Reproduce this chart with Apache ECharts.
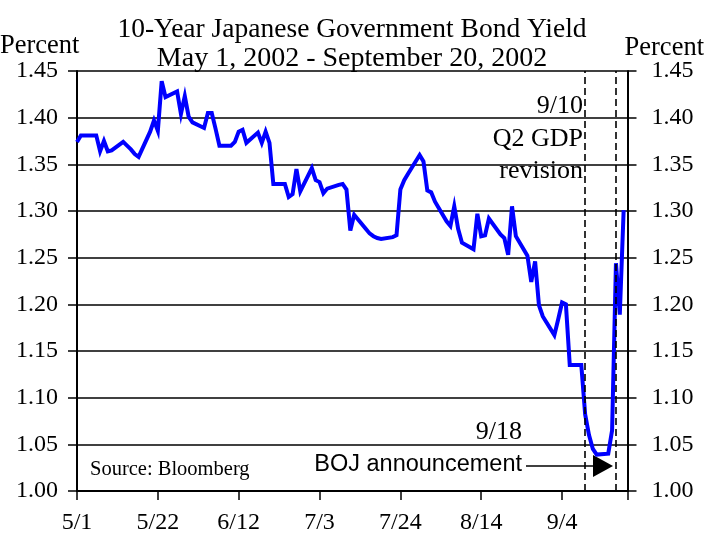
<!DOCTYPE html>
<html>
<head>
<meta charset="utf-8">
<script src="https://cdn.jsdelivr.net/npm/echarts@6/dist/echarts.min.js"></script>
<style>
  html, body { margin: 0; padding: 0; background: #ffffff; }
  #chart { width: 704px; height: 537px; }
</style>
</head>
<body>
<div id="chart"></div>
<script>
// Trading dates (2002) and 10-year JGB yields, percent
const dates = [
  '5/1','5/2','5/6','5/7','5/8','5/9','5/10','5/13','5/14','5/15','5/16','5/17',
  '5/20','5/21','5/22','5/23','5/24','5/27','5/28','5/29','5/30','5/31',
  '6/3','6/4','6/5','6/6','6/7','6/10','6/11','6/12','6/13','6/14',
  '6/17','6/18','6/19','6/20','6/21','6/24','6/25','6/26','6/27','6/28',
  '7/1','7/2','7/3','7/4','7/5','7/8','7/9','7/10','7/11','7/12',
  '7/15','7/16','7/17','7/18','7/19','7/22','7/23','7/24','7/25','7/26',
  '7/29','7/30','7/31','8/1','8/2','8/5','8/6','8/7','8/8','8/9',
  '8/12','8/13','8/14','8/15','8/16','8/19','8/20','8/21','8/22','8/23',
  '8/26','8/27','8/28','8/29','8/30','9/2','9/3','9/4','9/5','9/6',
  '9/9','9/10','9/11','9/12','9/13','9/16','9/17','9/18','9/19','9/20'
];
const yields = [
  1.374,1.381,1.381,1.364,1.375,1.364,1.365,1.374,1.370,1.366,1.361,1.358,
  1.385,1.397,1.386,1.439,1.422,1.428,1.404,1.423,1.401,1.395,
  1.389,1.405,1.405,1.388,1.370,1.370,1.374,1.385,1.387,1.373,
  1.384,1.373,1.385,1.373,1.329,1.329,1.315,1.318,1.345,1.321,
  1.346,1.333,1.331,1.319,1.324,1.328,1.329,1.323,1.279,1.296,
  1.281,1.276,1.273,1.271,1.270,1.272,1.274,1.323,1.333,1.340,
  1.360,1.353,1.322,1.320,1.310,1.289,1.284,1.305,1.281,1.266,
  1.259,1.297,1.273,1.274,1.292,1.275,1.271,1.253,1.305,1.273,
  1.252,1.224,1.246,1.199,1.187,1.167,1.184,1.202,1.200,1.135,
  1.135,1.082,1.060,1.045,1.039,1.040,1.065,1.244,1.189,1.301
];

// Date axis tick labels (every three weeks from May 1)
const xTickLabels = ['5/1','5/22','6/12','7/3','7/24','8/14','9/4'];
// Event markers: Q2 GDP revision and BOJ announcement
const eventDates = ['9/10','9/18'];

const yMin = 1.00, yMax = 1.45, yStep = 0.05;
const tickDays = 21;
const axisEndDay = 143;

function dayOf(md) {
  const [m, d] = md.split('/').map(Number);
  return (Date.UTC(2002, m - 1, d) - Date.UTC(2002, 4, 1)) / 86400000;
}

const seriesData = dates.map((d, i) => [dayOf(d), yields[i]]);

const serif = '"Liberation Serif", "Times New Roman", serif';
const sans = '"Liberation Sans", Arial, sans-serif';

const chart = echarts.init(document.getElementById('chart'), null, { renderer: 'canvas' });

const yAxisCommon = {
  type: 'value',
  min: yMin,
  max: yMax,
  interval: yStep,
  axisLine: { show: true, lineStyle: { color: '#000', width: 2 } },
  axisTick: { show: true, inside: false, length: 9, lineStyle: { color: '#000', width: 1.5 } },
  axisLabel: {
    color: '#000', fontFamily: serif, fontSize: 24,
    formatter: v => v.toFixed(2)
  }
};

chart.setOption({
  animation: false,
  backgroundColor: '#ffffff',
  grid: { left: 77, right: 76.5, top: 71, bottom: 46, containLabel: false },
  xAxis: {
    type: 'value',
    min: 0,
    max: axisEndDay,
    interval: tickDays,
    axisLine: { show: true, onZero: false, lineStyle: { color: '#000', width: 2 } },
    axisTick: { show: true, inside: false, length: 9, lineStyle: { color: '#000', width: 1.5 } },
    splitLine: { show: false },
    axisLabel: {
      color: '#000', fontFamily: serif, fontSize: 24, margin: 20,
      formatter: v => {
        const k = Math.round(v / tickDays);
        return (Math.abs(v - k * tickDays) < 1e-6 && k < xTickLabels.length) ? xTickLabels[k] : '';
      }
    }
  },
  yAxis: [
    Object.assign({}, yAxisCommon, {
      position: 'left',
      splitLine: { show: true, lineStyle: { color: '#000', width: 1.5 } },
      axisLabel: Object.assign({}, yAxisCommon.axisLabel, { margin: 19 })
    }),
    Object.assign({}, yAxisCommon, {
      position: 'right',
      splitLine: { show: false },
      axisLabel: Object.assign({}, yAxisCommon.axisLabel, { margin: 24 })
    })
  ],
  series: [{
    type: 'line',
    yAxisIndex: 0,
    data: seriesData,
    showSymbol: false,
    symbol: 'none',
    lineStyle: { color: '#0000ff', width: 4, join: 'miter', miterLimit: 6 },
    z: 3,
    markLine: {
      silent: true,
      symbol: ['none', 'none'],
      label: { show: false },
      lineStyle: { color: '#000', width: 1.6, type: [7, 4] },
      data: eventDates.map(d => ({ xAxis: dayOf(d) }))
    }
  }],
  graphic: [
    { type: 'text', left: 'center', top: 16,
      style: { text: '10-Year Japanese Government Bond Yield', font: '27.5px ' + serif, fill: '#000' } },
    { type: 'text', left: 'center', top: 45,
      style: { text: 'May 1, 2002 - September 20, 2002', font: '28px ' + serif, fill: '#000' } },
    { type: 'text', left: 0, top: 33,
      style: { text: 'Percent', font: '26.5px ' + serif, fill: '#000' } },
    { type: 'text', right: 0, top: 35,
      style: { text: 'Percent', font: '26.5px ' + serif, fill: '#000' } },
    { type: 'text', x: 583, y: 93,
      style: { text: '9/10', font: '26px ' + serif, fill: '#000', align: 'right' } },
    { type: 'text', x: 583, y: 126,
      style: { text: 'Q2 GDP', font: '26px ' + serif, fill: '#000', align: 'right' } },
    { type: 'text', x: 583, y: 158,
      style: { text: 'revision', font: '26px ' + serif, fill: '#000', align: 'right' } },
    { type: 'text', x: 522, y: 419,
      style: { text: '9/18', font: '26px ' + serif, fill: '#000', align: 'right' } },
    { type: 'text', x: 522, y: 453,
      style: { text: 'BOJ announcement', font: '23.5px ' + sans, fill: '#000', align: 'right' } },
    { type: 'text', x: 90, y: 459,
      style: { text: 'Source: Bloomberg', font: '20.5px ' + serif, fill: '#000' } },
    { type: 'line', shape: { x1: 526, y1: 466, x2: 596, y2: 466 },
      style: { stroke: '#000', lineWidth: 1.6 } },
    { type: 'polygon', shape: { points: [[593, 455], [613, 466], [593, 477]] },
      style: { fill: '#000' } }
  ]
});
</script>
</body>
</html>
